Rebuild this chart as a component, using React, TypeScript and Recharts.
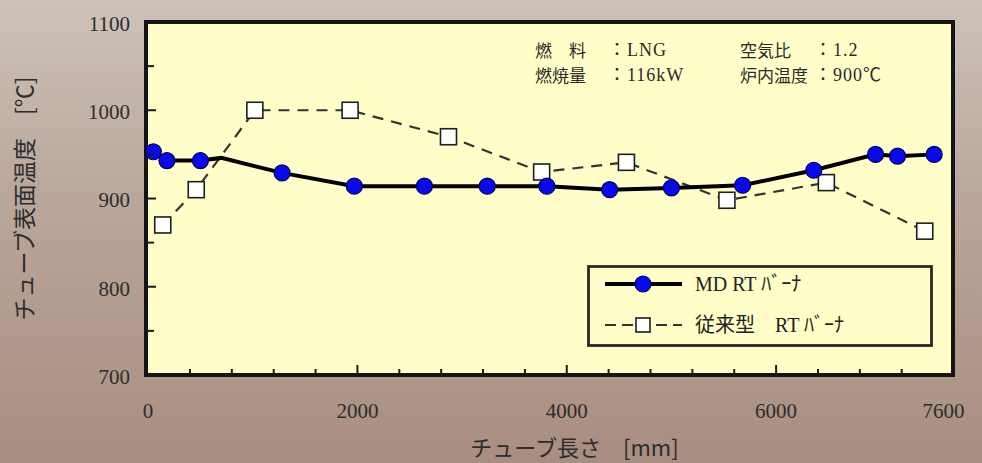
import React from 'react';
import { LineChart, Line, XAxis, YAxis, ReferenceArea, Legend } from 'recharts';

// MD RT burner (solid line, blue circles)
const mdPosition = [50, 180, 500, 700, 1280, 1970, 2640, 3240, 3810, 4410, 5000, 5680, 6360, 6950, 7160, 7510];
const mdTemp = [953, 943, 943, 946, 929, 914, 914, 914, 914, 910, 912, 915, 932, 950, 948, 950];
const mdUnmarked = [3];

// conventional RT burner (dashed line, white squares)
const convPosition = [140, 460, 1020, 1930, 2870, 3760, 4570, 5530, 6480, 7420];
const convTemp = [870, 910, 1000, 1000, 970, 930, 941, 898, 918, 863];

const xTicks = [0, 400, 800, 1200, 1600, 2000, 2400, 2800, 3200, 3600, 4000, 4400, 4800, 5200, 5600, 6000, 6400, 6800, 7200, 7600];
const xLabeled = [0, 2000, 4000, 6000, 7600];
const yTicks = [700, 750, 800, 850, 900, 950, 1000, 1050, 1100];
const yLabeled = [700, 800, 900, 1000, 1100];
const xDomain: [number, number] = [-20, 7690];
const yDomain: [number, number] = [700, 1100];

const notes = [
  { label: '燃　料', value: '：LNG' },
  { label: '空気比', value: '：1.2' },
  { label: '燃焼量', value: '：116kW' },
  { label: '炉内温度', value: '：900℃' },
];

const mdName = 'MD RT ﾊﾞｰﾅ';
const convName = '従来型　RT ﾊﾞｰﾅ';

const mdData = mdPosition.map((x, i) => ({ x, t: mdTemp[i] }));
const convData = convPosition.map((x, i) => ({ x, t: convTemp[i] }));

const SERIF = "'Liberation Serif', 'Noto Sans CJK JP', serif";
const CJK = "'Noto Sans CJK JP', 'Liberation Serif', sans-serif";
const PLOT_BG = '#fffec9';
const X_MARGIN = 26;
const Y_MARGIN = 16;

const renderXTick = (p: any) => {
  const v = p.payload.value;
  const base = p.y - X_MARGIN;
  const inner = v !== xTicks[0] && v !== xTicks[xTicks.length - 1];
  const major = xLabeled.includes(v);
  return (
    <g key={`xt${v}`}>
      {inner && (
        <line x1={p.x} x2={p.x} y1={base} y2={base - (major ? 10 : 6)} stroke="#1a1a1a" strokeWidth={2} />
      )}
      {major && (
        <text x={p.x} y={p.y} dy="0.8em" textAnchor="middle" fontSize={21} fontFamily={SERIF} fill="#2d2d2d">
          {v}
        </text>
      )}
    </g>
  );
};

const renderYTick = (p: any) => {
  const v = p.payload.value;
  const base = p.x + Y_MARGIN;
  const inner = v !== yTicks[0] && v !== yTicks[yTicks.length - 1];
  const major = yLabeled.includes(v);
  return (
    <g key={`yt${v}`}>
      {inner && (
        <line x1={base} x2={base + (major ? 10 : 8)} y1={p.y} y2={p.y} stroke="#1a1a1a" strokeWidth={2} />
      )}
      {major && (
        <text x={p.x} y={p.y} dy="0.42em" textAnchor="end" fontSize={21} fontFamily={SERIF} fill="#2d2d2d">
          {v}
        </text>
      )}
    </g>
  );
};

const renderCircle = (p: any) => {
  if (mdUnmarked.includes(p.index)) return <g key={`c${p.index}`} />;
  return <circle key={`c${p.index}`} cx={p.cx} cy={p.cy} r={8} fill="#0909ee" stroke="#00005a" strokeWidth={1.2} />;
};

const renderSquare = (p: any) => (
  <rect key={`s${p.index}`} x={p.cx - 8} y={p.cy - 8} width={16} height={16} fill="#ffffff" stroke="#1e1e1e" strokeWidth={1.6} />
);

const renderLegend = () => (
  <svg width={346} height={82} style={{ display: 'block' }}>
    <rect x={1.5} y={1.5} width={343} height={79} fill={PLOT_BG} stroke="#2a2a2a" strokeWidth={2.8} />
    <line x1={18} x2={95} y1={19} y2={19} stroke="#000" strokeWidth={4} />
    <circle cx={56} cy={19} r={8} fill="#0909ee" stroke="#00005a" strokeWidth={1.2} />
    <text x={108} y={19} dy="0.36em" fontSize={20} fontFamily={SERIF} fill="#222">{mdName}</text>
    <line x1={18} x2={95} y1={60} y2={60} stroke="#333" strokeWidth={2.2} strokeDasharray="11 6" />
    <rect x={49} y={53} width={14} height={14} fill="#fff" stroke="#1e1e1e" strokeWidth={1.6} />
    <text x={108} y={60} dy="0.36em" fontSize={20} fontFamily={SERIF} fill="#222">{convName}</text>
  </svg>
);

const noteLeft = [535, 740];
const noteValueLeft = [608, 814];
const noteTop = [40, 65];

export default function App() {
  return (
    <div
      style={{
        position: 'fixed',
        left: 0,
        top: 0,
        width: 982,
        height: 463,
        overflow: 'hidden',
        background: 'linear-gradient(180deg, #cdc2ba 0%, #bba89c 40%, #a88e80 100%)',
        fontFamily: CJK,
      }}
    >
      <LineChart width={982} height={463} margin={{ top: 22, right: 29, left: 0, bottom: 0 }}>
        <ReferenceArea
          xAxisId={0}
          yAxisId={0}
          x1={xDomain[0]}
          x2={xDomain[1]}
          y1={yDomain[0]}
          y2={yDomain[1]}
          fill={PLOT_BG}
          fillOpacity={1}
          stroke="#151515"
          strokeWidth={4}
          ifOverflow="visible"
        />
        <XAxis
          type="number"
          dataKey="x"
          domain={xDomain}
          ticks={xTicks}
          interval={0}
          height={88}
          tickSize={0}
          tickMargin={X_MARGIN}
          axisLine={false}
          tickLine={false}
          tick={renderXTick}
          label={{
            value: 'チューブ長さ　[mm]',
            position: 'insideBottom',
            offset: 7,
            dx: 25,
            style: { fontSize: 22, fontFamily: CJK, fill: '#2d2d2d' },
          }}
        />
        <YAxis
          type="number"
          domain={yDomain}
          ticks={yTicks}
          interval={0}
          width={146}
          tickSize={0}
          tickMargin={Y_MARGIN}
          axisLine={false}
          tickLine={false}
          tick={renderYTick}
          label={{
            value: 'チューブ表面温度　[℃]',
            position: 'insideLeft',
            offset: 25,
            angle: -90,
            style: { fontSize: 23, fontFamily: CJK, fill: '#2d2d2d', textAnchor: 'middle' },
          }}
        />
        <Line
          data={convData}
          dataKey="t"
          name={convName}
          stroke="#333"
          strokeWidth={2.2}
          strokeDasharray="11 8"
          dot={renderSquare}
          activeDot={false}
          isAnimationActive={false}
        />
        <Line
          data={mdData}
          dataKey="t"
          name={mdName}
          stroke="#000"
          strokeWidth={4}
          dot={renderCircle}
          activeDot={false}
          isAnimationActive={false}
        />
        <Legend
          layout="vertical"
          align="center"
          verticalAlign="middle"
          content={renderLegend}
          wrapperStyle={{ left: 587, top: 265, width: 346, height: 82 }}
        />
      </LineChart>
      {notes.map((n, i) => (
        <React.Fragment key={n.label}>
          <div
            style={{
              position: 'absolute',
              left: noteLeft[i % 2],
              top: noteTop[Math.floor(i / 2)],
              fontSize: 17,
              lineHeight: '20px',
              color: '#2a2a2a',
              fontFamily: CJK,
            }}
          >
            {n.label}
          </div>
          <div
            style={{
              position: 'absolute',
              left: noteValueLeft[i % 2],
              top: noteTop[Math.floor(i / 2)],
              fontSize: 18,
              lineHeight: '20px',
              letterSpacing: 1,
              color: '#2a2a2a',
              fontFamily: SERIF,
            }}
          >
            {n.value}
          </div>
        </React.Fragment>
      ))}
    </div>
  );
}
